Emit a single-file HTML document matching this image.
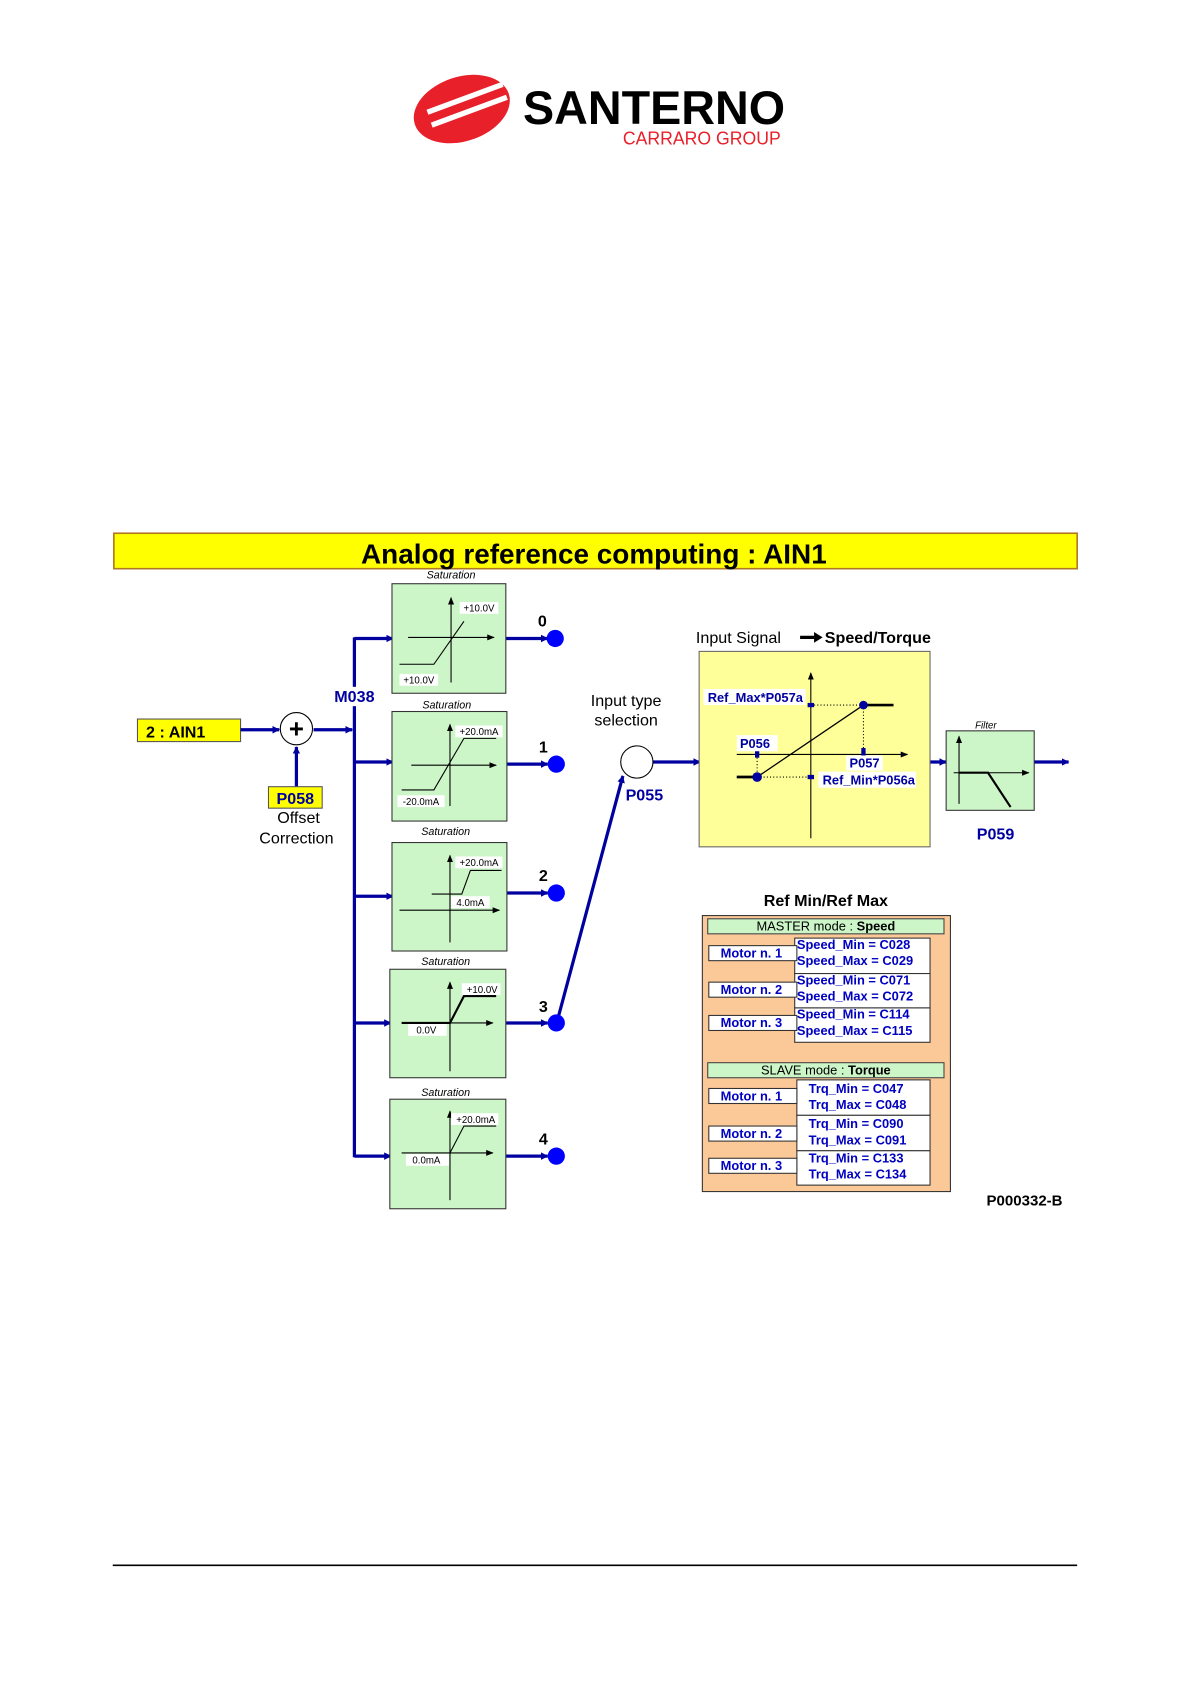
<!DOCTYPE html>
<html><head><meta charset="utf-8"><style>
html,body{margin:0;padding:0;background:#fff}
svg{display:block}
text{font-family:"Liberation Sans",Arial,sans-serif}
</style></head><body>
<svg width="1191" height="1684" viewBox="0 0 1109 1567" xmlns="http://www.w3.org/2000/svg">
<defs>
<marker id="a" viewBox="0 0 10 10" refX="9" refY="5" markerWidth="7" markerHeight="8" markerUnits="userSpaceOnUse" orient="auto"><path d="M0,0L10,5L0,10z" fill="#0000a0"/></marker>
<marker id="k" viewBox="0 0 10 10" refX="9" refY="5" markerWidth="7" markerHeight="7" markerUnits="userSpaceOnUse" orient="auto"><path d="M0,1L10,5L0,9z" fill="#000"/></marker>
</defs>
<g transform="rotate(-18 430 101)">
<ellipse cx="430" cy="101" rx="46" ry="30" fill="#e8202a"/>
</g>
<path d="M398,104 L468,78 M402,116 L472,90" stroke="#fff" stroke-width="5"/>
<text x="487" y="115" font-size="44" font-weight="bold" fill="#000" textLength="244" lengthAdjust="spacingAndGlyphs">SANTERNO</text>
<text x="580" y="134" font-size="17" fill="#e8202a" textLength="147" lengthAdjust="spacingAndGlyphs">CARRARO GROUP</text>
<rect x="106" y="496" width="897" height="33" fill="#ffff00" stroke="#b07820" stroke-width="1.5"/>
<text x="553" y="524" font-size="26" font-weight="bold" text-anchor="middle">Analog reference computing : AIN1</text>
<rect x="128" y="669" width="96" height="21" fill="#ffff00" stroke="#555"/>
<text x="136" y="686" font-size="15" font-weight="bold">2 : AIN1</text>
<g stroke="#0000a0" stroke-width="3" fill="none">
<line x1="224" y1="679" x2="260" y2="679" marker-end="url(#a)"/>
<line x1="292" y1="679" x2="328" y2="679" marker-end="url(#a)"/>
<line x1="276" y1="732" x2="276" y2="695" marker-end="url(#a)"/>
<line x1="330" y1="593" x2="330" y2="1077"/>
<line x1="330" y1="594" x2="366" y2="594" marker-end="url(#a)"/>
<line x1="330" y1="709" x2="366" y2="709" marker-end="url(#a)"/>
<line x1="330" y1="834" x2="366" y2="834" marker-end="url(#a)"/>
<line x1="330" y1="952" x2="364" y2="952" marker-end="url(#a)"/>
<line x1="330" y1="1076" x2="364" y2="1076" marker-end="url(#a)"/>
<line x1="471" y1="594" x2="510" y2="594" marker-end="url(#a)"/>
<line x1="472" y1="711" x2="510" y2="711" marker-end="url(#a)"/>
<line x1="472" y1="831" x2="510" y2="831" marker-end="url(#a)"/>
<line x1="471" y1="952" x2="510" y2="952" marker-end="url(#a)"/>
<line x1="471" y1="1076" x2="510" y2="1076" marker-end="url(#a)"/>
<line x1="520" y1="946" x2="580" y2="722" marker-end="url(#a)"/>
<line x1="608" y1="709" x2="652" y2="709" marker-end="url(#a)"/>
<line x1="866" y1="709" x2="881" y2="709" marker-end="url(#a)"/>
<line x1="963" y1="709" x2="995" y2="709" marker-end="url(#a)"/>
</g>
<circle cx="276" cy="678" r="15" fill="#fff" stroke="#000"/>
<text x="276" y="686" font-size="24" font-weight="bold" text-anchor="middle">+</text>
<rect x="250" y="732" width="50" height="20" fill="#ffff00" stroke="#555"/>
<text x="275" y="748" font-size="15" font-weight="bold" fill="#0000a0" text-anchor="middle">P058</text>
<text x="278" y="766" font-size="15" text-anchor="middle">Offset</text>
<text x="276" y="785" font-size="15" text-anchor="middle">Correction</text>
<rect x="310" y="639" width="40" height="18" fill="#fff"/>
<text x="330" y="653" font-size="15" font-weight="bold" fill="#0000a0" text-anchor="middle">M038</text>
<g font-size="10" font-style="italic" text-anchor="middle">
<text x="420" y="538">Saturation</text><text x="416" y="659">Saturation</text><text x="415" y="777">Saturation</text><text x="415" y="898">Saturation</text><text x="415" y="1020">Saturation</text>
</g>
<g fill="#ccf5c8" stroke="#333">
<rect x="365" y="543" width="106" height="102"/>
<rect x="365" y="662" width="107" height="102"/>
<rect x="365" y="784" width="107" height="101"/>
<rect x="363" y="902" width="108" height="101"/>
<rect x="363" y="1023" width="108" height="102"/>
</g>
<g stroke="#000" stroke-width="1" fill="none">
<line x1="380" y1="593" x2="460" y2="593" marker-end="url(#k)"/><line x1="420" y1="635" x2="420" y2="556" marker-end="url(#k)"/>
<polyline points="372,618 404,618 432,578"/>
<line x1="383" y1="712" x2="462" y2="712" marker-end="url(#k)"/><line x1="419" y1="750" x2="419" y2="674" marker-end="url(#k)"/>
<polyline points="374,735 404,735 432,687 462,687"/>
<line x1="372" y1="847" x2="465" y2="847" marker-end="url(#k)"/><line x1="419" y1="877" x2="419" y2="796" marker-end="url(#k)"/>
<polyline points="402,832 430,832 438,810 467,810"/>
<line x1="374" y1="952" x2="459" y2="952" marker-end="url(#k)"/><line x1="419" y1="997" x2="419" y2="914" marker-end="url(#k)"/>
<polyline points="374,952 419,952 432,927 462,927" stroke-width="2"/>
<line x1="374" y1="1073" x2="459" y2="1073" marker-end="url(#k)"/><line x1="419" y1="1117" x2="419" y2="1034" marker-end="url(#k)"/>
<polyline points="419,1073 432,1048 462,1048"/>
</g>
<g font-size="9" text-anchor="middle">
<rect x="428" y="560" width="36" height="11" fill="#fff"/><text x="446" y="569">+10.0V</text>
<rect x="372" y="627" width="36" height="11" fill="#fff"/><text x="390" y="636">+10.0V</text>
<rect x="424" y="675" width="44" height="11" fill="#fff"/><text x="446" y="684">+20.0mA</text>
<rect x="370" y="740" width="44" height="11" fill="#fff"/><text x="392" y="749">-20.0mA</text>
<rect x="424" y="797" width="44" height="11" fill="#fff"/><text x="446" y="806">+20.0mA</text>
<rect x="420" y="834" width="36" height="11" fill="#fff"/><text x="438" y="843">4.0mA</text>
<rect x="430" y="915" width="36" height="11" fill="#fff"/><text x="449" y="924">+10.0V</text>
<rect x="380" y="953" width="36" height="11" fill="#fff"/><text x="397" y="962">0.0V</text>
<rect x="420" y="1036" width="44" height="11" fill="#fff"/><text x="443" y="1045">+20.0mA</text>
<rect x="378" y="1074" width="40" height="11" fill="#fff"/><text x="397" y="1083">0.0mA</text>
</g>
<g fill="#0000ff"><circle cx="517" cy="594" r="8"/><circle cx="518" cy="711" r="8"/><circle cx="518" cy="831" r="8"/><circle cx="518" cy="952" r="8"/><circle cx="518" cy="1076" r="8"/></g>
<g font-size="15" font-weight="bold" text-anchor="middle"><text x="505" y="583">0</text><text x="506" y="700">1</text><text x="506" y="820">2</text><text x="506" y="942">3</text><text x="506" y="1065">4</text></g>
<circle cx="593" cy="709" r="15" fill="#fff" stroke="#000"/>
<text x="583" y="657" font-size="15" text-anchor="middle">Input type</text>
<text x="583" y="675" font-size="15" text-anchor="middle">selection</text>
<text x="600" y="745" font-size="15" font-weight="bold" fill="#0000a0" text-anchor="middle">P055</text>
<text x="648" y="598" font-size="15">Input Signal</text>
<line x1="745" y1="593" x2="763" y2="593" stroke="#000" stroke-width="3"/>
<path d="M758,588 L766,593 L758,598z" fill="#000"/>
<text x="768" y="598" font-size="15" font-weight="bold">Speed/Torque</text>
<rect x="651" y="606" width="215" height="182" fill="#ffff99" stroke="#666"/>
<line x1="755" y1="780" x2="755" y2="626" stroke="#000" marker-end="url(#k)"/>
<line x1="686" y1="702" x2="845" y2="702" stroke="#000" marker-end="url(#k)"/>
<polyline points="686,723 705,723" stroke="#000" stroke-width="2.5"/>
<polyline points="804,656 832,656" stroke="#000" stroke-width="2.5"/>
<line x1="705" y1="723" x2="804" y2="656" stroke="#000" stroke-width="1.2"/>
<g stroke="#000" stroke-dasharray="1,2"><line x1="705" y1="723" x2="755" y2="723"/><line x1="755" y1="656" x2="804" y2="656"/><line x1="705" y1="702" x2="705" y2="723"/><line x1="804" y1="656" x2="804" y2="702"/></g>
<g fill="#0000a0"><rect x="752" y="654" width="6" height="4"/><rect x="752" y="721" width="6" height="4"/><rect x="703" y="698" width="4" height="7"/><rect x="802" y="696" width="4" height="7"/><circle cx="705" cy="723" r="4.5"/><circle cx="804" cy="656" r="4"/></g>
<g font-size="12" font-weight="bold" fill="#0000a0">
<rect x="655" y="641" width="95" height="15" fill="#fff"/><text x="659" y="653" fill="#0000a0">Ref_Max*P057a</text>
<rect x="686" y="684" width="38" height="15" fill="#fff"/><text x="689" y="696" fill="#0000a0">P056</text>
<rect x="788" y="703" width="34" height="14" fill="#fff"/><text x="791" y="714" fill="#0000a0">P057</text>
<rect x="762" y="718" width="91" height="15" fill="#fff"/><text x="766" y="730" fill="#0000a0">Ref_Min*P056a</text>
</g>
<text x="918" y="678" font-size="9" font-style="italic" text-anchor="middle">Filter</text>
<rect x="881" y="680" width="82" height="74" fill="#ccf5c8" stroke="#333"/>
<line x1="893" y1="748" x2="893" y2="685" stroke="#000" marker-end="url(#k)"/>
<line x1="888" y1="719" x2="958" y2="719" stroke="#000" marker-end="url(#k)"/>
<polyline points="893,719 920,719 941,751" stroke="#000" stroke-width="2" fill="none"/>
<text x="927" y="781" font-size="15" font-weight="bold" fill="#0000a0" text-anchor="middle">P059</text>
<text x="769" y="843" font-size="15" font-weight="bold" text-anchor="middle">Ref Min/Ref Max</text>
<rect x="654" y="852" width="231" height="257" fill="#fbc898" stroke="#333"/>
<rect x="659" y="855" width="220" height="14" fill="#ccf5c8" stroke="#444"/>
<text x="769" y="866" font-size="12" text-anchor="middle">MASTER mode : <tspan font-weight="bold">Speed</tspan></text>
<rect x="659" y="989" width="220" height="14" fill="#ccf5c8" stroke="#444"/>
<text x="769" y="1000" font-size="12" text-anchor="middle">SLAVE mode : <tspan font-weight="bold">Torque</tspan></text>
<g fill="#fff" stroke="#333">
<rect x="740" y="873" width="126" height="33"/><rect x="740" y="906" width="126" height="32"/><rect x="740" y="938" width="126" height="32"/>
<rect x="742" y="1005" width="124" height="33"/><rect x="742" y="1038" width="124" height="33"/><rect x="742" y="1071" width="124" height="32"/>
<rect x="660" y="880" width="82" height="14"/><rect x="660" y="914" width="82" height="14"/><rect x="660" y="945" width="82" height="14"/>
<rect x="660" y="1013" width="82" height="14"/><rect x="660" y="1048" width="82" height="14"/><rect x="660" y="1078" width="82" height="14"/>
</g>
<g font-size="12" font-weight="bold" fill="#0000c0">
<text x="671" y="891">Motor n. 1</text><text x="671" y="925">Motor n. 2</text><text x="671" y="956">Motor n. 3</text>
<text x="671" y="1024">Motor n. 1</text><text x="671" y="1059">Motor n. 2</text><text x="671" y="1089">Motor n. 3</text>
<text x="742" y="883">Speed_Min = C028</text><text x="742" y="898">Speed_Max = C029</text>
<text x="742" y="916">Speed_Min = C071</text><text x="742" y="931">Speed_Max = C072</text>
<text x="742" y="948">Speed_Min = C114</text><text x="742" y="963">Speed_Max = C115</text>
<text x="753" y="1017">Trq_Min = C047</text><text x="753" y="1032">Trq_Max = C048</text>
<text x="753" y="1050">Trq_Min = C090</text><text x="753" y="1065">Trq_Max = C091</text>
<text x="753" y="1082">Trq_Min = C133</text><text x="753" y="1097">Trq_Max = C134</text>
</g>
<text x="954" y="1122" font-size="14" font-weight="bold" text-anchor="middle">P000332-B</text>
<line x1="105" y1="1457" x2="1003" y2="1457" stroke="#000" stroke-width="1.5"/>
</svg>
</body></html>
